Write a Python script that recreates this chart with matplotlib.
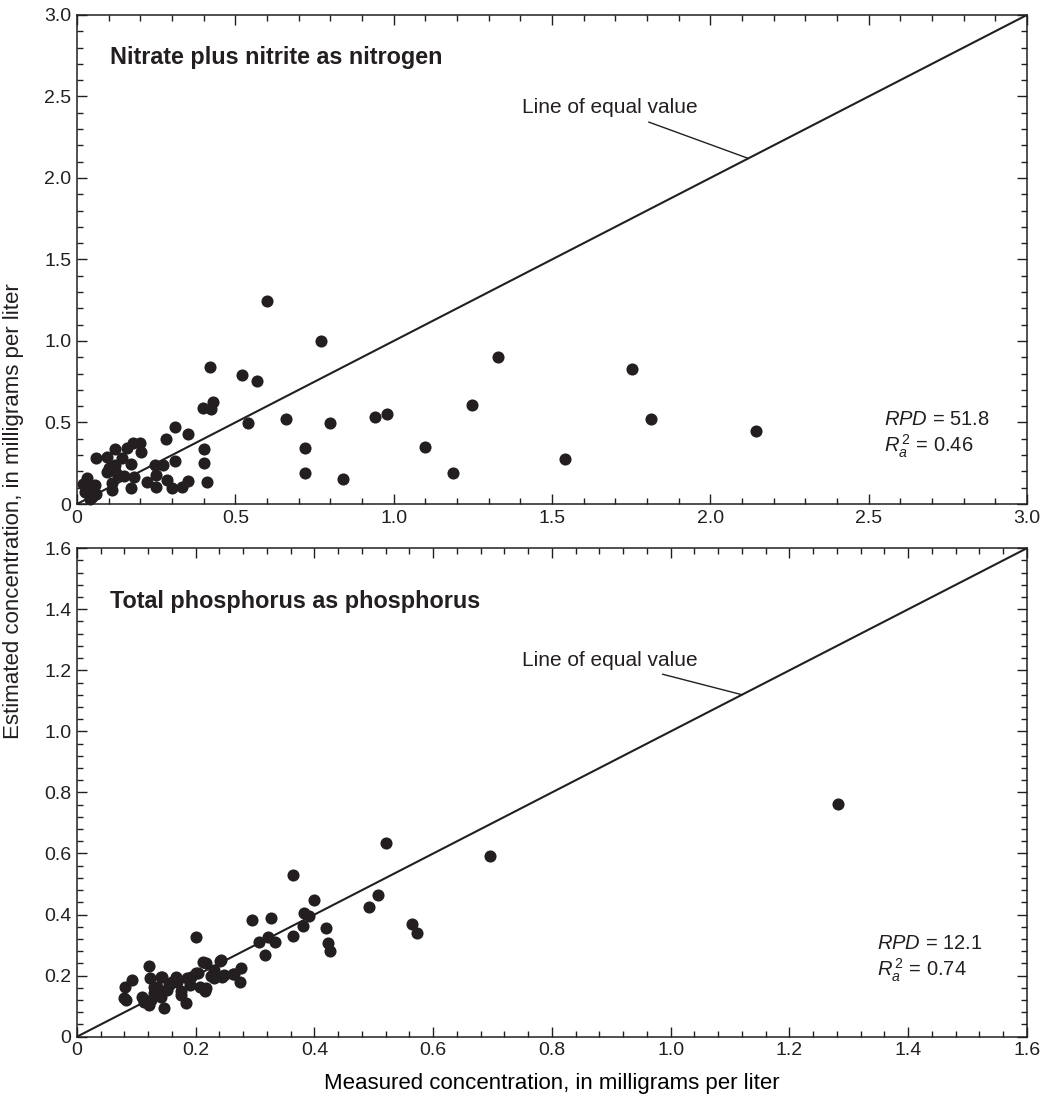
import matplotlib
matplotlib.use("Agg")
import matplotlib.pyplot as plt
from matplotlib.ticker import MultipleLocator, FuncFormatter

# Nitrate plus nitrite as nitrogen (measured, estimated), mg/L
nitrato_x = [0.599, 0.77, 0.42, 0.52, 0.569, 0.399, 0.423, 0.431, 1.247, 0.541,
             0.66, 0.799, 0.941, 0.98, 1.099, 0.72, 0.72, 0.841, 1.188, 1.329,
             1.541, 1.753, 1.813, 2.144,
             0.309, 0.352, 0.28, 0.40, 0.40, 0.411, 0.309, 0.352, 0.331, 0.299,
             0.273, 0.246, 0.251, 0.251, 0.22, 0.283, 0.199, 0.178, 0.201, 0.157,
             0.12, 0.171, 0.181, 0.171, 0.141, 0.12, 0.094, 0.06, 0.094, 0.13,
             0.11, 0.112, 0.031, 0.036, 0.057, 0.046, 0.025, 0.02, 0.05, 0.10,
             0.12, 0.15, 0.04, 0.06]
nitrato_y = [1.245, 1.002, 0.843, 0.791, 0.757, 0.587, 0.581, 0.628, 0.607, 0.495,
             0.519, 0.495, 0.536, 0.55, 0.352, 0.342, 0.188, 0.151, 0.188, 0.90,
             0.276, 0.826, 0.521, 0.448,
             0.47, 0.427, 0.399, 0.335, 0.253, 0.133, 0.264, 0.143, 0.106, 0.10,
             0.239, 0.239, 0.178, 0.106, 0.137, 0.147, 0.376, 0.376, 0.321, 0.342,
             0.335, 0.243, 0.168, 0.096, 0.284, 0.239, 0.29, 0.28, 0.198, 0.178,
             0.127, 0.086, 0.158, 0.106, 0.117, 0.045, 0.075, 0.12, 0.075, 0.22,
             0.20, 0.17, 0.03, 0.06]

# Total phosphorus as phosphorus (measured, estimated), mg/L
fosforo_x = [0.079, 0.081, 0.082, 0.092, 0.113, 0.121, 0.121, 0.123, 0.13, 0.135,
             0.138, 0.141, 0.141, 0.147, 0.152, 0.158, 0.166, 0.169, 0.175, 0.176,
             0.184, 0.186, 0.192, 0.20, 0.201, 0.204, 0.208, 0.213, 0.216, 0.217,
             0.217, 0.231, 0.231, 0.241, 0.243, 0.245, 0.248, 0.263, 0.265, 0.274,
             0.277, 0.295, 0.307, 0.317, 0.322, 0.326, 0.334, 0.363, 0.364, 0.381,
             0.382, 0.391, 0.40, 0.419, 0.422, 0.426, 0.492, 0.507, 0.521, 0.564,
             0.573, 0.695, 1.282,
             0.11, 0.124, 0.144, 0.13, 0.16, 0.19, 0.225, 0.155]
fosforo_y = [0.126, 0.164, 0.12, 0.186, 0.115, 0.104, 0.232, 0.191, 0.164, 0.164,
             0.142, 0.197, 0.131, 0.093, 0.153, 0.175, 0.197, 0.18, 0.148, 0.137,
             0.109, 0.191, 0.197, 0.208, 0.325, 0.208, 0.164, 0.246, 0.151, 0.24,
             0.159, 0.219, 0.191, 0.248, 0.251, 0.197, 0.202, 0.204, 0.206, 0.18,
             0.226, 0.383, 0.311, 0.268, 0.325, 0.39, 0.311, 0.53, 0.331, 0.363,
             0.404, 0.395, 0.448, 0.355, 0.308, 0.282, 0.426, 0.464, 0.636, 0.368,
             0.341, 0.591, 0.762,
             0.131, 0.12, 0.197, 0.142, 0.18, 0.17, 0.20, 0.17]

negro = "#231f20"
fuente = ["Liberation Sans", "DejaVu Sans"]

plt.rcParams["font.family"] = fuente
plt.rcParams["mathtext.fontset"] = "custom"
plt.rcParams["mathtext.it"] = "Liberation Sans:italic"
plt.rcParams["mathtext.rm"] = "Liberation Sans"
plt.rcParams["text.color"] = negro


def etiqueta(v, pos):
    if abs(v) < 1e-9:
        return "0"
    return "%.1f" % v


def panel(ax, xs, ys, lim, mayor, menor, titulo, ty, linea_txt, linea_fin, rpd, r2, sx, sy):
    ax.scatter(xs, ys, s=76, color=negro, linewidths=0, zorder=3, clip_on=False)
    ax.plot([0, lim], [0, lim], color=negro, lw=1.5, zorder=2)
    ax.set_xlim(0, lim)
    ax.set_ylim(0, lim)
    for a in (ax.xaxis, ax.yaxis):
        a.set_major_locator(MultipleLocator(mayor))
        a.set_minor_locator(MultipleLocator(menor))
        a.set_major_formatter(FuncFormatter(etiqueta))
    ax.tick_params(which="both", direction="in", top=True, right=True,
                   width=1.0, color=negro, labelsize=14, labelcolor=negro, pad=4)
    ax.tick_params(which="major", length=7)
    ax.tick_params(which="minor", length=4)
    for sp in ax.spines.values():
        sp.set_linewidth(1.1)
        sp.set_color(negro)

    ax.text(0.035 * lim, ty, titulo, fontsize=16.8, fontweight="bold", va="center")
    # etiqueta de la linea de igualdad con su guia
    ax.annotate("Line of equal value", xy=linea_fin, xytext=linea_txt,
                fontsize=15, ha="right", va="center",
                arrowprops=dict(arrowstyle="-", color=negro, lw=1.0,
                                shrinkA=4, shrinkB=0))
    ax.text(sx, sy, "$\\mathit{RPD}$ = " + rpd, fontsize=14.5, va="center")
    ax.text(sx, sy - 0.055 * lim, "$\\mathit{R}_{\\mathit{a}}^{\\,2}$ = " + r2,
            fontsize=14.5, va="center")


fig = plt.figure(figsize=(10.46, 10.99), dpi=100)
ax1 = fig.add_axes([0.0736, 0.5414, 0.9082, 0.4450])
ax2 = fig.add_axes([0.0736, 0.0567, 0.9082, 0.4445])

panel(ax1, nitrato_x, nitrato_y, 3.0, 0.5, 0.1,
      "Nitrate plus nitrite as nitrogen", 2.74,
      (1.96, 2.43), (2.12, 2.12), "51.8", "0.46", 2.55, 0.52)
panel(ax2, fosforo_x, fosforo_y, 1.6, 0.2, 0.04,
      "Total phosphorus as phosphorus", 1.427,
      (1.045, 1.232), (1.12, 1.12), "12.1", "0.74", 1.348, 0.304)

ax2.set_xlabel("Measured concentration, in milligrams per liter", fontsize=16, labelpad=10)
fig.text(0.013, 0.535, "Estimated concentration, in milligrams per liter",
         rotation=90, fontsize=16, ha="center", va="center")

fig.savefig("out.png", dpi=100)
